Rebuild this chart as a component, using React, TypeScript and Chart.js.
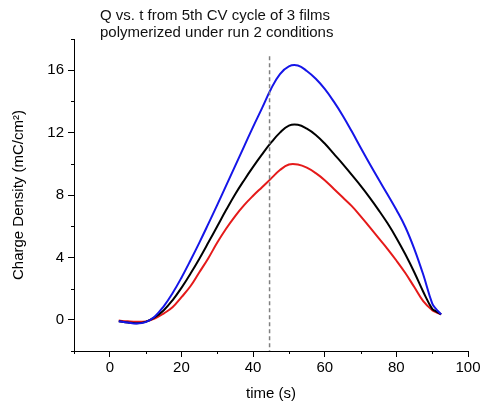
import React, { useEffect, useRef } from "react";
import { Chart, registerables } from "chart.js";

Chart.register(...registerables);

const titleLines = ["Q vs. t from 5th CV cycle of 3 films", "polymerized under run 2 conditions"];
const xTitle = "time (s)";
const yTitle = "Charge Density (mC/cm\u00B2)";

const xMajorTicks = [0, 20, 40, 60, 80, 100];
const xMinorTicks = [-10, 10, 30, 50, 70, 90];
const yMajorTicks = [0, 4, 8, 12, 16];
const yMinorTicks = [-2, 2, 6, 10, 14, 18];

const markerTime = 44.6;
const markerTop = 16.9;

const timeS = [
  2.5, 5, 7.5, 10, 12.5, 15, 17.5, 20, 22.5, 25, 27.5, 30, 32.5, 35, 37.5, 40, 42.5, 45, 47.5, 50,
  52.5, 55, 57.5, 60, 62.5, 65, 67.5, 70, 72.5, 75, 77.5, 80, 82.5, 85, 87.5, 90, 91, 92.5,
];

const film1 = [
  -0.1, -0.18, -0.24, -0.15, 0.2, 0.85, 1.7, 2.7, 3.8, 4.95, 6.15, 7.37, 8.62, 9.87, 11.12, 12.37, 13.57, 14.8, 15.75, 16.25,
  16.3, 15.95, 15.45, 14.8, 14.0, 13.1, 12.1, 11.05, 10.02, 9.02, 8.05, 7.05, 5.95, 4.55, 2.9, 1.05, 0.72, 0.35,
];

const film2 = [
  -0.1, -0.17, -0.22, -0.13, 0.15, 0.6, 1.25, 2.05, 2.95, 3.92, 4.95, 6.0, 7.05, 8.05, 8.95, 9.8, 10.6, 11.35, 12.0, 12.45,
  12.5, 12.25, 11.85, 11.3, 10.65, 10.0, 9.3, 8.6, 7.85, 7.05, 6.2, 5.25, 4.2, 3.05, 1.8, 0.7, 0.55, 0.35,
];

const film3 = [
  -0.05, -0.1, -0.13, -0.1, 0.08, 0.4, 0.8, 1.45, 2.15, 3.05, 3.95, 4.95, 5.85, 6.65, 7.35, 7.95, 8.5, 9.05, 9.6, 9.95,
  9.95, 9.75, 9.4, 8.95, 8.4, 7.85, 7.3, 6.65, 5.95, 5.25, 4.55, 3.8, 3.0, 2.1, 1.2, 0.62, 0.5, 0.35,
];

const FONT = "'Liberation Sans', Arial, sans-serif";

const extrasPlugin = {
  id: "extras",
  afterDatasetsDraw(chart: any) {
    const { ctx, scales } = chart;
    const x = scales.x;
    const y = scales.y;
    ctx.save();
    ctx.strokeStyle = "#808080";
    ctx.lineWidth = 1.5;
    ctx.setLineDash([4, 3]);
    const px = x.getPixelForValue(markerTime);
    ctx.beginPath();
    ctx.moveTo(px, y.getPixelForValue(markerTop));
    ctx.lineTo(px, y.getPixelForValue(-2));
    ctx.stroke();
    ctx.restore();
  },
  afterDraw(chart: any) {
    const { ctx, scales, chartArea } = chart;
    const x = scales.x;
    const y = scales.y;
    ctx.save();
    ctx.strokeStyle = "#000";
    ctx.lineWidth = 1;
    ctx.beginPath();
    for (const v of xMinorTicks) {
      const p = Math.round(x.getPixelForValue(v)) + 0.5;
      ctx.moveTo(p, chartArea.bottom);
      ctx.lineTo(p, chartArea.bottom + 3);
    }
    for (const v of yMinorTicks) {
      const p = Math.round(y.getPixelForValue(v)) + 0.5;
      ctx.moveTo(chartArea.left, p);
      ctx.lineTo(chartArea.left - 3, p);
    }
    ctx.stroke();
    ctx.fillStyle = "#111";
    ctx.font = `15px ${FONT}`;
    ctx.textAlign = "left";
    ctx.textBaseline = "alphabetic";
    ctx.fillText(titleLines[0], 100, 20);
    ctx.fillText(titleLines[1], 100, 36.5);
    ctx.restore();
  },
};

export default function App() {
  const canvasRef = useRef<HTMLCanvasElement | null>(null);

  useEffect(() => {
    if (!canvasRef.current) return;
    Chart.defaults.font.family = FONT;
    const mk = (vals: number[]) => timeS.map((t, i) => ({ x: t, y: vals[i] }));
    const chart = new Chart(canvasRef.current, {
      type: "line",
      data: {
        datasets: [
          { data: mk(film1), borderColor: "#1515e8", borderWidth: 2 },
          { data: mk(film2), borderColor: "#000000", borderWidth: 2 },
          { data: mk(film3), borderColor: "#e51a1a", borderWidth: 2 },
        ],
      },
      options: {
        responsive: false,
        animation: false,
        devicePixelRatio: 1,
        layout: { padding: { top: 39, right: 17, left: 0, bottom: 0 } },
        plugins: { legend: { display: false }, tooltip: { enabled: false }, title: { display: false } },
        elements: {
          point: { radius: 0 },
          line: { tension: 0.4, fill: false },
        },
        scales: {
          x: {
            type: "linear",
            min: -10,
            max: 100,
            afterBuildTicks: (s: any) => {
              s.ticks = xMajorTicks.map((v) => ({ value: v }));
            },
            afterFit: (s: any) => {
              s.height = 60;
            },
            grid: { display: true, drawOnChartArea: false, drawTicks: true, tickLength: 6, color: "#000", tickColor: "#000" },
            border: { display: true, color: "#000", width: 1 },
            ticks: { color: "#000", font: { size: 15 }, padding: 2, maxRotation: 0, autoSkip: false },
            title: { display: true, text: xTitle, color: "#000", font: { size: 15 }, padding: { top: 0, bottom: 8 } },
          },
          y: {
            type: "linear",
            min: -2,
            max: 18,
            afterBuildTicks: (s: any) => {
              s.ticks = yMajorTicks.map((v) => ({ value: v }));
            },
            afterFit: (s: any) => {
              s.width = 74;
            },
            grid: { display: true, drawOnChartArea: false, drawTicks: true, tickLength: 6, color: "#000", tickColor: "#000" },
            border: { display: true, color: "#000", width: 1 },
            ticks: { color: "#000", font: { size: 15 }, padding: 4, autoSkip: false },
            title: { display: true, text: yTitle, color: "#000", font: { size: 15 }, padding: { top: 10, bottom: 0 } },
          },
        },
      },
      plugins: [extrasPlugin],
    } as any);
    return () => chart.destroy();
  }, []);

  return (
    <div style={{ position: "absolute", left: 0, top: 0, width: 485, height: 411, background: "#fff" }}>
      <canvas ref={canvasRef} width={485} height={411} style={{ display: "block" }} />
    </div>
  );
}
